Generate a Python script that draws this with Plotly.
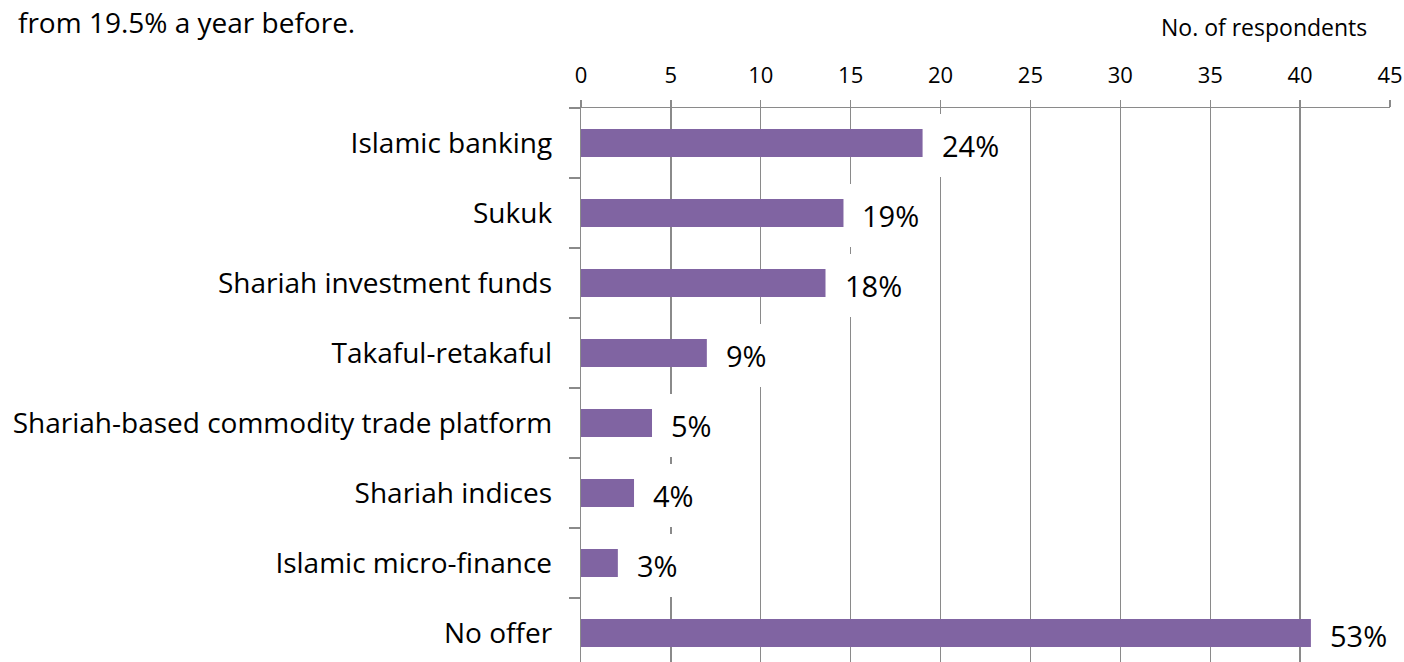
import plotly.graph_objects as go

categories = ["Islamic banking", "Sukuk", "Shariah investment funds", "Takaful-retakaful",
              "Shariah-based commodity trade platform", "Shariah indices",
              "Islamic micro-finance", "No offer"]
respondents = [19, 14.6, 13.6, 7, 3.95, 2.95, 2.05, 40.6]
pct_labels = ["24%", "19%", "18%", "9%", "5%", "4%", "3%", "53%"]
x_ticks = [0, 5, 10, 15, 20, 25, 30, 35, 40, 45]

FONT = "Open Sans"
GRID = "#8a8a8a"
BAR = "#8064A2"

fig = go.Figure()
fig.add_trace(go.Bar(
    y=categories, x=respondents, orientation="h",
    marker=dict(color=BAR, line=dict(width=0)),
    width=0.4, hoverinfo="skip",
))

for cat, val, lab in zip(categories, respondents, pct_labels):
    fig.add_annotation(
        x=val, y=cat, xref="x", yref="y", text=lab, showarrow=False,
        xanchor="left", yanchor="middle", xshift=7, yshift=-2,
        bgcolor="white", borderpad=12, borderwidth=0,
        font=dict(family=FONT, size=29, color="black"),
    )

fig.add_annotation(
    x=-0.699, y=1.155, xref="paper", yref="paper", text="from 19.5% a year before.",
    showarrow=False, xanchor="left", yanchor="middle",
    font=dict(family=FONT, size=28, color="black"),
)
fig.add_annotation(
    x=0.844, y=1.146, xref="paper", yref="paper", text="No. of respondents",
    showarrow=False, xanchor="center", yanchor="middle",
    font=dict(family=FONT, size=23, color="black"),
)

fig.update_layout(
    width=1404, height=662,
    margin=dict(l=581, r=14, t=108, b=0),
    paper_bgcolor="white", plot_bgcolor="white",
    showlegend=False, hovermode=False,
    font=dict(family=FONT, color="black"),
)
fig.update_xaxes(
    side="top", range=[0, 45], tickvals=x_ticks, ticktext=[str(v) for v in x_ticks],
    showgrid=True, gridcolor=GRID, gridwidth=1.3,
    showline=True, linecolor=GRID, linewidth=1.3,
    ticks="outside", ticklen=7, tickcolor=GRID, tickwidth=1.3,
    tickfont=dict(family=FONT, size=22, color="black"),
    ticklabelstandoff=8, zeroline=False,
)
fig.update_yaxes(
    type="category", categoryorder="array", categoryarray=categories,
    range=[7.414, -0.5], tickson="boundaries",
    showgrid=False, showline=True, linecolor=GRID, linewidth=1.3,
    ticks="outside", ticklen=11, tickcolor=GRID, tickwidth=1.3,
    tickfont=dict(family=FONT, size=28, color="black"),
    ticklabelstandoff=22,
)

page_css = ("document.body.style.margin='0';"
            "document.body.style.overflow='hidden';"
            "document.documentElement.style.overflow='hidden';")
fig.write_html("out.html", post_script=page_css,
               config={"displayModeBar": False, "staticPlot": True})
